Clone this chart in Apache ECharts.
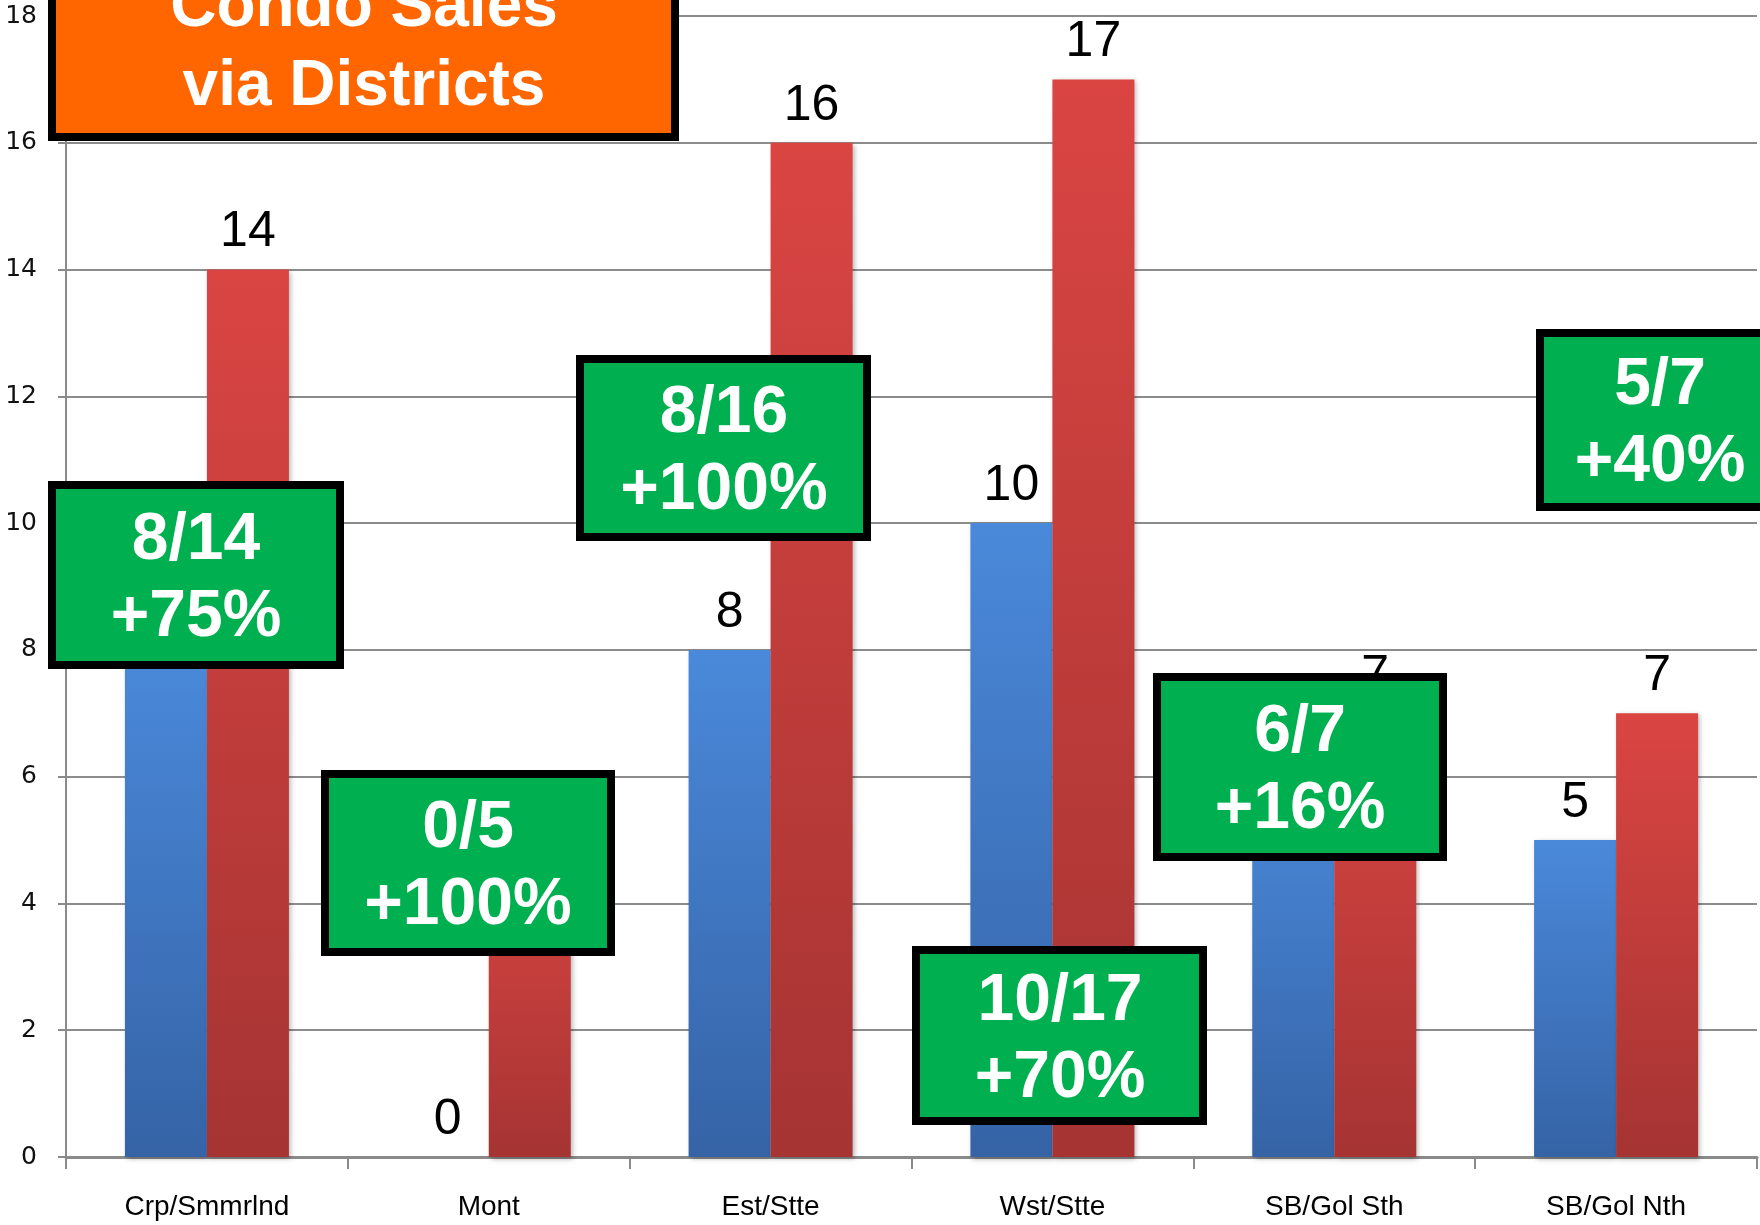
<!DOCTYPE html>
<html>
<head>
<meta charset="utf-8">
<script src="https://cdn.jsdelivr.net/npm/echarts@6/dist/echarts.min.js"></script>
<style>
html,body{margin:0;padding:0;background:#fff;}
#chart{width:1760px;height:1225px;}
</style>
</head>
<body>
<div id="chart"></div>
<script>
// ---- data ----
const categories = ['Crp/Smmrlnd', 'Mont', 'Est/Stte', 'Wst/Stte', 'SB/Gol Sth', 'SB/Gol Nth'];
const priorSales = [8, 0, 8, 10, 6, 5];
const currentSales = [14, 5, 16, 17, 7, 7];
const yMin = 0, yMax = 18, yInterval = 2;
const ratioLabels = ['8/14', '0/5', '8/16', '10/17', '6/7', '5/7'];
const changeLabels = ['+75%', '+100%', '+100%', '+70%', '+16%', '+40%'];
const titleLines = ['Condo Sales', 'via Districts'];

// ---- layout of annotation boxes (outer edges, px) ----
const boxLayout = [
  {x1: 48,   y1: 481, x2: 344,  y2: 669, tx: 196},
  {x1: 321,  y1: 770, x2: 615,  y2: 956, tx: 468},
  {x1: 576,  y1: 355, x2: 871,  y2: 541, tx: 724},
  {x1: 912,  y1: 946, x2: 1207, y2: 1125, tx: 1060},
  {x1: 1153, y1: 673, x2: 1447, y2: 861, tx: 1300},
  {x1: 1536, y1: 329, x2: 1810, y2: 511, tx: 1660}
];

const chart = echarts.init(document.getElementById('chart'), null, {renderer: 'canvas'});

const graphics = [];
// title box
graphics.push({
  type: 'rect', z: 100,
  shape: {x: 52, y: -30, width: 623, height: 167},
  style: {fill: '#FF6600', stroke: '#000', lineWidth: 8}
});
graphics.push({
  type: 'text', z: 101, x: 364, y: 8,
  style: {text: titleLines[0], fill: '#fff', font: 'bold 64px "Liberation Sans", Arial, sans-serif', textAlign: 'center', textVerticalAlign: 'middle'}
});
graphics.push({
  type: 'text', z: 101, x: 364, y: 87,
  style: {text: titleLines[1], fill: '#fff', font: 'bold 64px "Liberation Sans", Arial, sans-serif', textAlign: 'center', textVerticalAlign: 'middle'}
});
boxLayout.forEach((b, i) => {
  graphics.push({
    type: 'rect', z: 100,
    shape: {x: b.x1 + 4, y: b.y1 + 4, width: b.x2 - b.x1 - 8, height: b.y2 - b.y1 - 8},
    style: {fill: '#00AF50', stroke: '#000', lineWidth: 8}
  });
  const cy = (b.y1 + b.y2) / 2;
  graphics.push({
    type: 'text', z: 101, x: b.tx, y: cy - 34,
    style: {text: ratioLabels[i], fill: '#fff', font: 'bold 66px "Liberation Sans", Arial, sans-serif', textAlign: 'center', textVerticalAlign: 'middle'}
  });
  graphics.push({
    type: 'text', z: 101, x: b.tx, y: cy + 43,
    style: {text: changeLabels[i], fill: '#fff', font: 'bold 66px "Liberation Sans", Arial, sans-serif', textAlign: 'center', textVerticalAlign: 'middle'}
  });
});

function barGrad(top, bottom) {
  return new echarts.graphic.LinearGradient(0, 0, 0, 1, [
    {offset: 0, color: top},
    {offset: 1, color: bottom}
  ]);
}
const labelStyle = {
  show: true, position: 'top', distance: 12,
  fontFamily: '"Liberation Sans", Arial, sans-serif', fontSize: 50, color: '#000'
};

chart.setOption({
  animation: false,
  backgroundColor: '#fff',
  grid: {left: 66, right: 3, top: 16, bottom: 68, containLabel: false},
  xAxis: {
    type: 'category', data: categories, boundaryGap: true,
    axisLine: {show: true, lineStyle: {color: '#8a8a8a', width: 3}},
    axisTick: {show: true, length: 12, alignWithLabel: false, lineStyle: {color: '#8a8a8a', width: 2}},
    axisLabel: {margin: 36, fontFamily: '"Liberation Sans", Arial, sans-serif', fontSize: 28, color: '#000', interval: 0}
  },
  yAxis: {
    type: 'value', min: yMin, max: yMax, interval: yInterval,
    axisLine: {show: true, lineStyle: {color: '#8a8a8a', width: 2}},
    axisTick: {show: true, length: 8, lineStyle: {color: '#8a8a8a', width: 2}},
    axisLabel: {margin: 29, fontFamily: '"DejaVu Sans", Verdana, sans-serif', fontSize: 25, color: '#111'},
    splitLine: {show: true, lineStyle: {color: '#8c8c8c', width: 2}}
  },
  series: [
    {
      type: 'bar', data: priorSales, barWidth: 82, barGap: '0%',
      itemStyle: {color: barGrad('#4A89DA', '#3563A6'), shadowColor: 'rgba(0,0,0,0.3)', shadowBlur: 5, shadowOffsetX: 2, shadowOffsetY: 2},
      label: labelStyle
    },
    {
      type: 'bar', data: currentSales, barWidth: 82, barGap: '0%',
      itemStyle: {color: barGrad('#DA4542', '#A53433'), shadowColor: 'rgba(0,0,0,0.3)', shadowBlur: 5, shadowOffsetX: 2, shadowOffsetY: 2},
      label: labelStyle
    }
  ],
  graphic: graphics
});
</script>
</body>
</html>
